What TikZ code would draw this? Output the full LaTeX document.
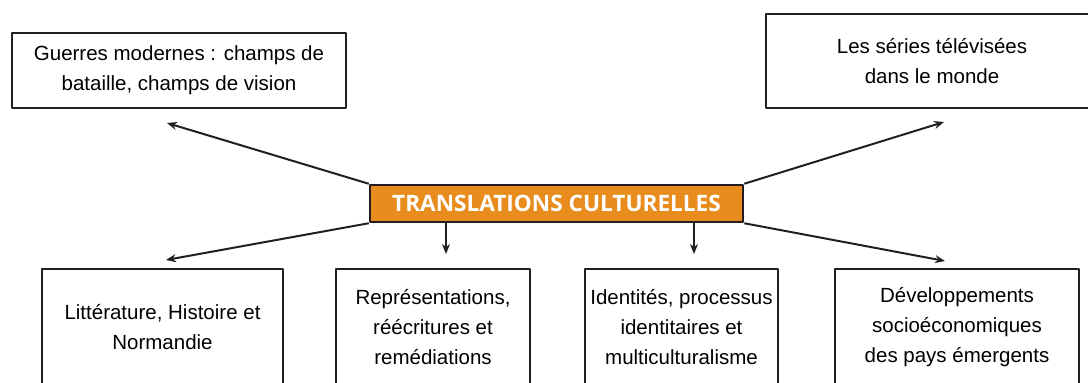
\documentclass[tikz,border=0pt]{standalone}
\usepackage{fontspec}
\setmainfont{Liberation Sans}
\newfontfamily\titlefont{Open Sans}
\usetikzlibrary{arrows.meta}
\definecolor{orangeTC}{RGB}{232,140,30}
\definecolor{inkTC}{RGB}{35,31,32}

\begin{document}
\begin{tikzpicture}[x=1pt,y=-1pt,>={Stealth[length=10pt,width=8pt]},line join=round,
	font=\fontsize{20.5}{30}\selectfont,
	theme/.style={draw=inkTC,line width=2.5pt,align=center,inner sep=0pt},
	title/.style={draw=inkTC,line width=2.5pt,fill=orangeTC,text=white,inner sep=0pt,
		font=\titlefont\bfseries\fontsize{22.6}{24}\selectfont},
	link/.style={->,line width=2pt,draw=inkTC}]
	\useasboundingbox (0,0) rectangle (1088,383);
	\clip (0,0) rectangle (1088,383);
	% centre
	\node[title,minimum width=373pt,minimum height=37pt] (tc) at (556.5,203.5) {TRANSLATIONS CULTURELLES};
	% top row
	\node[theme,minimum width=334pt,minimum height=75pt] (guerres) at (179,70.5) {Guerres modernes : champs de\\bataille, champs de vision};
	\node[theme,minimum width=332pt,minimum height=94pt] (series) at (932,61) {Les séries télévisées\\dans le monde};
	% bottom row
	\node[theme,minimum width=241pt,minimum height=116pt] (litt) at (162.5,327) {Littérature, Histoire et\\Normandie};
	\node[theme,minimum width=194pt,minimum height=116pt] (repr) at (433,327) {Représentations,\\réécritures et\\remédiations};
	\node[theme,minimum width=193pt,minimum height=116pt] (ident) at (681.5,327) {Identités, processus\\identitaires et\\multiculturalisme};
	\node[theme,minimum width=244pt,minimum height=116pt] (devel) at (957,327) {Développements\\socioéconomiques\\des pays émergents};
	% arrow ends
	\coordinate (toGuerres) at (167,123);
	\coordinate (toSeries) at (944,122);
	\coordinate (toLitt) at (166,260);
	\coordinate (toRepr) at (446,254);
	\coordinate (toIdent) at (694,254);
	\coordinate (toDevel) at (945,261);
	\draw[link] (tc.north west) -- (toGuerres);
	\draw[link] (tc.north east) -- (toSeries);
	\draw[link] (tc.south west) -- (toLitt);
	\draw[link] (tc.south east) -- (toDevel);
	\draw[link] (tc.south -| toRepr) -- (toRepr);
	\draw[link] (tc.south -| toIdent) -- (toIdent);
\end{tikzpicture}
\end{document}
